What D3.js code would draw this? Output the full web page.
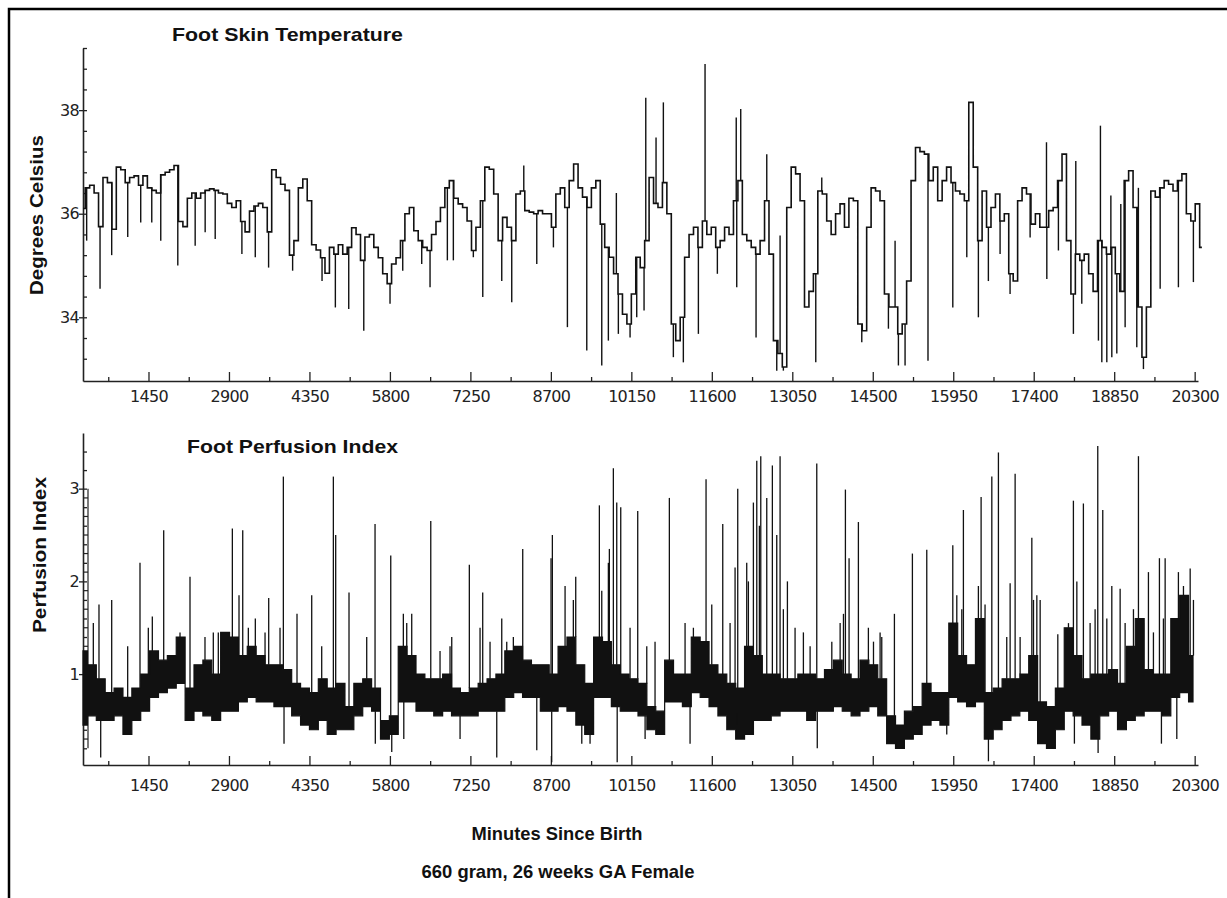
<!DOCTYPE html>
<html>
<head>
<meta charset="utf-8">
<script src="https://cdn.jsdelivr.net/npm/d3@7"></script>
<style>
  body { margin: 0; background: #fff; }
  .tick text { font-family: "DejaVu Sans", sans-serif; font-size: 16px; letter-spacing: -0.7px; fill: #222; }
  .title { font-family: "Liberation Sans", Arial, sans-serif; font-weight: bold; font-size: 19px; fill: #111; }
</style>
</head>
<body>
<svg id="chart"></svg>
<script>
// temperature, one value every 80 minutes from minute 270
const tempStart = 270, tempStep = 80;
const tempValues = [
  36.1, 36.5, 36.55, 36.4, 35.75, 36.7, 36.6, 35.7, 36.9, 36.85,
  36.6, 36.7, 36.73, 36.55, 36.73, 36.5, 36.45, 36.4, 36.75, 36.8,
  36.85, 36.93, 35.85, 35.75, 36.3, 36.4, 36.3, 36.4, 36.45, 36.48,
  36.45, 36.4, 36.38, 36.2, 36.12, 36.25, 35.85, 35.65, 36.05, 36.15,
  36.2, 36.12, 35.65, 36.85, 36.7, 36.57, 36.45, 35.2, 35.48, 36.5,
  36.67, 36.25, 35.4, 35.3, 35.15, 34.85, 35.35, 35.22, 35.4, 35.22,
  35.35, 35.73, 35.6, 35.1, 35.55,
  35.6, 35.35, 35.15, 34.84, 34.65, 35.03, 35.15, 35.48, 36.0, 36.12,
  35.67, 35.48, 35.35, 35.29, 35.6, 35.85, 36.12, 36.5, 36.64, 36.3,
  36.19, 36.12, 35.86, 35.29, 35.74, 36.25, 36.9, 36.86, 36.38, 35.48,
  35.93, 35.74, 35.48, 36.38, 36.44, 36.06, 36.03, 36.0, 36.06, 36.0,
  36.0, 35.74, 36.38, 36.5, 36.12, 36.64, 36.96, 36.5, 36.32, 36.12,
  36.5, 36.64, 35.8, 35.35, 35.16, 34.84, 34.45, 34.06, 33.87, 34.45,
  35.16, 34.96, 35.48,
  36.7, 36.2, 36.12, 36.6, 36.0, 33.87, 33.55, 34.0, 35.16, 35.6,
  35.74, 35.35, 35.86, 35.6, 35.74, 35.35, 35.48, 35.74, 35.6, 36.25,
  36.64, 35.6, 35.48, 35.35, 35.22, 35.48, 36.25, 35.22, 33.55, 33.3,
  33.04, 36.12, 36.9, 36.77, 36.25, 34.2, 34.5, 34.84, 36.44, 36.38,
  35.86, 35.6, 36.0, 36.19, 35.74, 36.3, 36.25, 33.87, 33.74, 35.74,
  36.5, 36.44, 36.25, 34.45, 34.2, 34.2, 33.68, 33.87, 34.7, 36.64,
  37.28, 37.2, 37.15,
  36.64, 36.9, 36.25, 36.64, 36.9, 36.6, 36.44, 36.38, 36.25, 38.15,
  36.9, 35.48, 36.44, 35.74, 36.12, 36.38, 35.86, 36.0, 34.84, 34.7,
  36.25, 36.5, 36.38, 35.8, 36.0, 35.74, 35.74, 36.06, 36.12, 36.64,
  37.15, 35.48, 34.45, 35.22, 35.1, 35.22, 34.84, 34.5, 35.48, 35.35,
  35.22, 35.35, 34.84, 34.5, 36.64, 36.83, 36.12, 34.2, 33.23, 34.2,
  36.44, 36.32, 36.5, 36.64, 36.57, 36.44, 36.64, 36.77, 36.0, 35.86,
  36.19, 35.35
];
// short excursions of the temperature trace: [minute, value]
const tempSpikes = [
  [336, 35.48], [577, 34.55], [787, 35.2], [1076, 35.55], [1310, 35.83], [1509, 35.83],
  [1671, 35.48], [1978, 35.0], [2291, 35.38], [2471, 35.64], [2652, 35.51], [3133, 35.22],
  [3374, 35.16], [3614, 34.96], [4047, 34.9], [4577, 34.7], [4817, 34.19], [5058, 34.16],
  [5329, 33.74], [5802, 34.26], [6031, 34.9], [6373, 35.03], [6523, 34.58], [6835, 35.1],
  [6943, 35.1], [7303, 35.16], [7473, 34.39], [7815, 34.7], [7995, 34.29], [8446, 35.03],
  [8746, 35.35], [8998, 33.81], [9347, 33.36], [9617, 33.07], [9736, 33.55], [9916, 33.68],
  [10127, 33.61], [10247, 34.0], [10379, 34.13], [8212, 36.93], [9880, 36.4], [10410, 38.24],
  [10907, 33.23], [11087, 33.13], [11358, 33.68], [11700, 34.84], [12049, 34.58], [12397, 33.61],
  [12770, 32.97], [12889, 32.97], [13473, 33.13], [14302, 33.52], [14782, 33.78], [14962, 33.07],
  [15082, 33.07], [15495, 33.16], [10595, 37.47], [10727, 38.15], [11478, 38.89], [12040, 37.86],
  [12121, 38.02], [12590, 37.15], [12830, 35.58], [13581, 36.7], [14902, 35.48],
  [15942, 34.19], [16194, 35.16], [16403, 34.0], [16583, 34.7], [16794, 35.22], [16974, 34.45],
  [17335, 35.54], [17636, 34.74], [17845, 35.29], [18115, 33.68], [18266, 34.26], [18566, 33.55],
  [18627, 33.13], [18717, 33.13], [18807, 33.23], [18897, 33.3], [19047, 33.81], [19257, 33.42],
  [19377, 33.0], [19678, 34.55], [20007, 34.58], [20277, 34.68], [17630, 37.38], [18158, 37.02],
  [18602, 37.7], [18790, 36.35], [18969, 36.19], [19286, 36.5]
];

// perfusion index: low / high of the dense band, one bin every 160 minutes from minute 270
const perfStart = 270, perfStep = 160;
const perfLow = [
  0.45, 0.55, 0.5, 0.5, 0.55, 0.35, 0.5, 0.6, 0.75, 0.8,
  0.85, 0.9, 0.5, 0.6, 0.55, 0.5, 0.6, 0.6, 0.7, 0.75,
  0.7, 0.7, 0.65, 0.65, 0.55, 0.45, 0.4, 0.5, 0.35, 0.4,
  0.4, 0.55, 0.65, 0.6, 0.3, 0.35, 0.7, 0.7, 0.6, 0.6,
  0.55, 0.6, 0.55, 0.55, 0.55, 0.6, 0.6, 0.6, 0.75, 0.8,
  0.75, 0.75, 0.6, 0.6, 0.65, 0.6, 0.45, 0.35, 0.75, 0.75,
  0.65, 0.6, 0.6, 0.55, 0.4, 0.35, 0.7, 0.7, 0.65, 0.8,
  0.75, 0.65, 0.55, 0.4, 0.3, 0.35, 0.5, 0.5, 0.55, 0.6,
  0.6, 0.6, 0.5, 0.6, 0.6, 0.65, 0.6, 0.55, 0.6, 0.65,
  0.55, 0.25, 0.2, 0.3, 0.35, 0.45, 0.5, 0.45, 0.75, 0.7,
  0.65, 0.7, 0.3, 0.4, 0.5, 0.55, 0.6, 0.5, 0.25, 0.2,
  0.4, 0.6, 0.55, 0.45, 0.3, 0.55, 0.6, 0.4, 0.5, 0.55,
  0.6, 0.6, 0.55, 0.75, 0.8, 0.7
];
const perfHigh = [
  1.25, 1.1, 0.95, 0.8, 0.85, 0.75, 0.85, 1.0, 1.25, 1.15,
  1.2, 1.4, 0.85, 1.1, 1.15, 1.0, 1.45, 1.4, 1.2, 1.3,
  1.2, 1.1, 1.1, 1.05, 0.9, 0.85, 0.8, 0.95, 0.85, 0.9,
  0.65, 0.9, 0.95, 0.85, 0.5, 0.55, 1.3, 1.2, 1.0, 0.95,
  0.95, 1.0, 0.85, 0.8, 0.85, 0.9, 0.95, 1.0, 1.25, 1.3,
  1.15, 1.1, 1.1, 1.0, 1.3, 1.4, 1.1, 0.9, 1.4, 1.35,
  1.1, 1.0, 0.95, 0.9, 0.65, 0.6, 1.15, 1.0, 1.0, 1.4,
  1.35, 1.1, 1.0, 0.9, 0.85, 1.3, 1.2, 1.0, 1.0, 0.95,
  0.95, 1.0, 1.0, 0.95, 1.05, 1.15, 1.0, 0.95, 1.15, 1.1,
  0.95, 0.55, 0.45, 0.6, 0.65, 0.9, 0.8, 0.8, 1.55, 1.2,
  1.1, 1.6, 0.8, 0.85, 0.95, 0.95, 1.0, 1.2, 0.7, 0.65,
  0.85, 1.5, 1.2, 0.95, 1.0, 1.0, 1.05, 0.9, 1.3, 1.6,
  1.05, 1.0, 1.0, 1.6, 1.85, 1.2
];
// isolated perfusion readings outside the band: [minute, value]
const perfSpikes = [
  [456, 1.55], [558, 1.75], [589, 0.1], [787, 1.8], [1075, 1.3], [1297, 2.2], [1447, 1.5],
  [1519, 1.62], [1724, 2.55], [2018, 1.45], [2198, 2.05], [2468, 1.4], [2618, 1.45], [2708, 1.45],
  [2961, 2.57], [3081, 1.85], [3148, 2.55], [3249, 1.5], [3375, 1.6], [3550, 1.45], [3616, 1.82],
  [3820, 1.5], [3880, 3.13], [3892, 0.25], [4126, 1.65], [4391, 1.85], [4571, 1.3], [4781, 3.13],
  [4823, 2.5], [5063, 1.88], [5382, 1.4], [5532, 2.62], [5537, 0.25], [5815, 2.28], [5833, 0.16],
  [6042, 1.65], [6050, 0.3], [6103, 1.55], [6193, 1.65], [6536, 2.65], [6703, 1.25], [6883, 1.3],
  [6914, 1.4], [7064, 0.3], [7231, 2.18], [7424, 1.5], [7472, 1.88], [7604, 1.35], [7725, 0.1],
  [7815, 1.6], [7905, 1.35], [8024, 1.4], [8193, 2.35], [8446, 0.18], [8703, 2.25], [8715, 0.05],
  [8727, 2.5], [8956, 1.95], [9105, 1.8], [9148, 2.05], [9257, 0.25], [9406, 0.25], [9574, 2.82],
  [9617, 1.9], [9736, 2.2], [9754, 2.35], [9826, 3.22], [9887, 2.85], [9895, 0.05], [9959, 2.8],
  [10127, 1.5], [10265, 2.76], [10398, 0.3], [10428, 1.3], [10577, 1.35], [10835, 2.9],
  [11118, 1.55], [11208, 0.25], [11268, 1.5], [11496, 3.1], [11599, 1.75], [11797, 2.62],
  [11929, 1.55], [12019, 2.15], [12049, 0.45], [12067, 3.0], [12229, 2.2], [12259, 2.0],
  [12349, 2.85], [12410, 3.3], [12457, 2.6], [12482, 3.35], [12590, 2.9], [12691, 3.25],
  [12770, 2.5], [12830, 3.35], [12889, 1.7], [12962, 2.0], [13100, 1.5], [13250, 1.45],
  [13371, 1.3], [13491, 3.27], [13500, 0.2], [13762, 1.35], [13912, 1.55], [13972, 1.65],
  [14007, 2.99], [14073, 2.25], [14241, 2.64], [14421, 1.5], [14513, 1.35], [14632, 1.45],
  [14662, 1.4], [14890, 1.65], [15214, 2.3], [15473, 2.34], [15833, 0.35], [15942, 2.39],
  [16014, 1.85], [16104, 1.7], [16133, 2.77], [16403, 1.95], [16452, 2.91], [16523, 1.75],
  [16584, 0.06], [16645, 3.13], [16764, 3.39], [16914, 1.4], [16975, 1.98], [17065, 3.16],
  [17155, 1.4], [17366, 2.47], [17396, 1.8], [17456, 1.85], [17516, 1.8], [17834, 1.43],
  [18026, 1.55], [18115, 2.87], [18133, 0.25], [18177, 2.0], [18295, 2.84], [18416, 1.55],
  [18506, 1.7], [18554, 3.46], [18560, 0.15], [18644, 2.77], [18717, 1.6], [18807, 1.95],
  [18957, 1.92], [19047, 1.55], [19197, 1.7], [19287, 3.35], [19377, 1.55], [19467, 2.1],
  [19557, 1.45], [19665, 2.25], [19701, 0.25], [19737, 1.6], [19768, 2.25], [19978, 0.3],
  [20007, 2.1], [20098, 1.95], [20219, 2.14], [20278, 1.8]
];

const xTicks = [1450, 2900, 4350, 5800, 7250, 8700, 10150, 11600, 13050, 14500, 15950, 17400, 18850, 20300];
const xMinor = [725, 2175, 3625, 5075, 6525, 7975, 9425, 10875, 12325, 13775, 15225, 16675, 18125, 19575];
const tempTicks = [34, 36, 38];
const tempMinor = [33.2, 33.6, 34.4, 34.8, 35.2, 35.6, 36.4, 36.8, 37.2, 37.6, 38.4, 38.8, 39.2];
const perfTicks = [1, 2, 3];
const perfMinor = [0.2, 0.4, 0.6, 0.8, 1.2, 1.4, 1.6, 1.8, 2.2, 2.4, 2.6, 2.8, 3.2, 3.4];
const perfLadder = [0.3, 0.5, 0.7, 0.9, 1.1, 1.3, 1.5, 1.7, 1.9, 2.1, 2.3, 2.5, 2.7, 2.9];

const W = 1227, H = 898;
const svg = d3.select('#chart').attr('width', W).attr('height', H);

// outer frame (cut by the page on the right and bottom)
svg.append('rect').attr('x', 9).attr('y', 9).attr('width', 1300).attr('height', 1000)
  .attr('fill', 'none').attr('stroke', '#000').attr('stroke-width', 2.5);

const x = d3.scaleLinear().domain([270, 20360]).range([83, 1198]);
const yT = d3.scaleLinear().domain([32.77, 39.2]).range([381, 48]);
const yP = d3.scaleLinear().domain([0.02, 3.6]).range([765, 433]);

function drawAxes(y, bottom, major, minor, labelPad) {
  // x axis, ticks point into the plot
  svg.append('g').attr('transform', 'translate(0,' + bottom + ')')
    .call(d3.axisBottom(x).tickValues(xTicks).tickSize(-9).tickPadding(labelPad)
      .tickFormat(d3.format('d')).tickSizeOuter(0));
  svg.append('g').attr('transform', 'translate(0,' + bottom + ')')
    .call(d3.axisBottom(x).tickValues(xMinor).tickSize(-4).tickFormat('').tickSizeOuter(0))
    .select('.domain').remove();
  // y axis, major ticks cross the line
  const gy = svg.append('g').attr('transform', 'translate(83,0)');
  gy.call(d3.axisLeft(y).tickValues(major).tickSize(4).tickPadding(0)
    .tickFormat(d3.format('d')).tickSizeOuter(0));
  gy.selectAll('.tick line').attr('x1', -4).attr('x2', 4);
  svg.append('g').attr('transform', 'translate(83,0)')
    .call(d3.axisLeft(y).tickValues(minor).tickSize(-4).tickFormat('').tickSizeOuter(0))
    .select('.domain').remove();
  svg.selectAll('.domain').attr('stroke', '#222').attr('stroke-width', 1.6);
  svg.selectAll('.tick line').attr('stroke', '#222').attr('stroke-width', 1.3);
}

drawAxes(yT, 381, tempTicks, tempMinor, 10);
drawAxes(yP, 765, perfTicks, perfMinor, 15);

// ladder marks at the start of the perfusion record
const ladder = svg.append('g').attr('stroke', '#222').attr('stroke-width', 1.2);
ladder.selectAll('line').data(perfLadder).join('line')
  .attr('x1', x(270)).attr('x2', x(270) + 5)
  .attr('y1', d => yP(d)).attr('y2', d => yP(d));
ladder.append('line')
  .attr('x1', x(270) + 5).attr('x2', x(270) + 5)
  .attr('y1', yP(0.2)).attr('y2', yP(3.0));

// temperature trace
const tempPts = tempValues.map((v, i) => [tempStart + i * tempStep, v]);
svg.append('path').datum(tempPts)
  .attr('fill', 'none').attr('stroke', '#111').attr('stroke-width', 1.6)
  .attr('d', d3.line().x(d => x(d[0])).y(d => yT(d[1])).curve(d3.curveStep));

const tempBase = m => tempValues[Math.max(0, Math.min(tempValues.length - 1, Math.round((m - tempStart) / tempStep)))];
svg.append('g').selectAll('line').data(tempSpikes).join('line')
  .attr('x1', d => x(d[0])).attr('x2', d => x(d[0]))
  .attr('y1', d => yT(tempBase(d[0]))).attr('y2', d => yT(d[1]))
  .attr('stroke', '#111').attr('stroke-width', 1.4);

// perfusion band
const perfPts = perfLow.map((lo, k) => ({ m: perfStart + k * perfStep, lo: lo, hi: perfHigh[k] }));
svg.append('path').datum(perfPts)
  .attr('fill', '#111').attr('stroke', '#111').attr('stroke-width', 1.2)
  .attr('d', d3.area().x(d => x(d.m)).y0(d => yP(d.lo)).y1(d => yP(d.hi)).curve(d3.curveStep));

const perfBin = m => perfPts[Math.max(0, Math.min(perfPts.length - 1, Math.round((m - perfStart) / perfStep)))];
svg.append('g').selectAll('line').data(perfSpikes).join('line')
  .attr('x1', d => x(d[0])).attr('x2', d => x(d[0]))
  .attr('y1', d => { const b = perfBin(d[0]); return yP(d[1] > b.hi ? b.hi : d[1] < b.lo ? b.lo : (b.lo + b.hi) / 2); })
  .attr('y2', d => yP(d[1]))
  .attr('stroke', '#111').attr('stroke-width', 1.3);

// titles
function title(txt, len, tx, ty, rot, anchor) {
  svg.append('text').attr('class', 'title')
    .attr('text-anchor', anchor)
    .attr('transform', 'translate(' + tx + ',' + ty + ')' + (rot ? ' rotate(-90)' : ''))
    .attr('textLength', len).attr('lengthAdjust', 'spacingAndGlyphs')
    .text(txt);
}
title('Foot Skin Temperature', 231, 172, 41, false, 'start');
title('Foot Perfusion Index', 211, 187, 453, false, 'start');
title('Degrees Celsius', 160, 43, 215, true, 'middle');
title('Perfusion Index', 156, 46, 555, true, 'middle');
title('Minutes Since Birth', 171, 557, 840, false, 'middle');
title('660 gram, 26 weeks GA Female', 273, 558, 878, false, 'middle');
</script>
</body>
</html>
